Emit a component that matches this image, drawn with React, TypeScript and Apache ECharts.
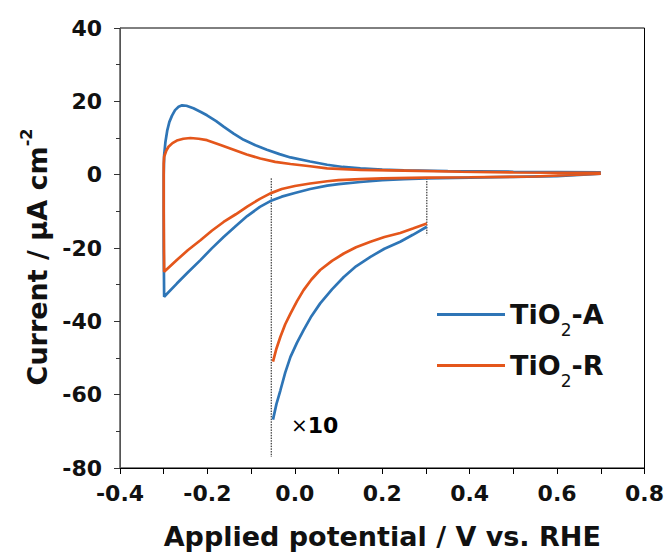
import React, { useEffect, useRef } from 'react';
import * as echarts from 'echarts';

// Axis ranges / ticks
const X_MIN = -0.4;
const X_MAX = 0.8;
const X_STEP = 0.2;
const Y_MIN = -80;
const Y_MAX = 40;
const Y_STEP = 20;

const SERIES_NAMES = ['TiO2-A', 'TiO2-R'];

// TiO2-A cyclic voltammogram: cathodic sweep 0.7 -> -0.3, then anodic sweep -0.3 -> 0.7
const CV_A: number[][] = [
  [0.7, 0.3], [0.6, -0.4], [0.5, -0.6], [0.4, -0.8], [0.3, -1.0], [0.25, -1.2], [0.2, -1.5],
  [0.15, -2.0], [0.1, -2.6], [0.074, -3.0], [0.035, -3.9], [0.0, -5.0], [-0.03, -6.0],
  [-0.056, -7.2], [-0.08, -8.8], [-0.109, -11.3], [-0.135, -14.0], [-0.163, -17],
  [-0.19, -20.1], [-0.216, -23.3], [-0.245, -26.7], [-0.27, -29.7], [-0.299, -33.3],
  [-0.300, -20], [-0.300, 0], [-0.299, 5.3], [-0.296, 9.0], [-0.292, 12.0], [-0.287, 14.4],
  [-0.281, 16.1], [-0.274, 17.6], [-0.266, 18.5], [-0.258, 18.9], [-0.248, 18.8],
  [-0.232, 18.1], [-0.215, 17.1], [-0.201, 16.2], [-0.18, 14.6], [-0.163, 13.1],
  [-0.14, 11.2], [-0.117, 9.5], [-0.09, 8.0], [-0.064, 6.8], [-0.035, 5.6], [-0.01, 4.7],
  [0.035, 3.6], [0.074, 2.7], [0.11, 2.1], [0.15, 1.7], [0.2, 1.4], [0.25, 1.2],
  [0.35, 1.0], [0.5, 0.8], [0.7, 0.6],
];

// TiO2-R cyclic voltammogram
const CV_R: number[][] = [
  [0.7, 0.3], [0.55, -0.5], [0.4, -0.7], [0.3, -0.8], [0.2, -1.0], [0.15, -1.2],
  [0.1, -1.5], [0.074, -1.8], [0.035, -2.4], [0.0, -3.1], [-0.03, -3.9], [-0.056, -5.1],
  [-0.08, -6.6], [-0.109, -8.7], [-0.135, -10.8], [-0.163, -12.9], [-0.19, -15.3],
  [-0.216, -17.9], [-0.245, -20.6], [-0.27, -23.3], [-0.299, -26.5],
  [-0.300, -10], [-0.300, 3], [-0.299, 4.9], [-0.294, 6.6], [-0.289, 7.6], [-0.28, 8.6],
  [-0.27, 9.3], [-0.255, 9.8], [-0.239, 10.0], [-0.22, 9.8], [-0.201, 9.4], [-0.17, 8.1],
  [-0.14, 6.8], [-0.11, 5.5], [-0.079, 4.4], [-0.045, 3.5], [-0.01, 2.9], [0.035, 2.3],
  [0.074, 1.7], [0.15, 1.3], [0.25, 1.1], [0.38, 0.8], [0.5, 0.6], [0.7, 0.5],
];

// Cathodic current between -0.05 and 0.30 V multiplied by 10
const X10_A: number[][] = [
  [-0.05, -66.8], [-0.042, -62.5], [-0.033, -58.8], [-0.022, -54.0], [-0.01, -49.7],
  [0.005, -45.8], [0.02, -42.4], [0.038, -38.6], [0.058, -35.1], [0.085, -31.3],
  [0.112, -27.9], [0.14, -25.0], [0.173, -22.4], [0.205, -20.2], [0.241, -18.3],
  [0.27, -16.4], [0.302, -14.2],
];
const X10_R: number[][] = [
  [-0.05, -51], [-0.042, -47.4], [-0.033, -44.2], [-0.022, -40.8], [-0.01, -37.9],
  [0.005, -34.5], [0.02, -31.5], [0.038, -28.6], [0.058, -26], [0.085, -23.5],
  [0.112, -21.5], [0.14, -19.8], [0.173, -18.3], [0.205, -17.0], [0.241, -15.9],
  [0.27, -14.7], [0.302, -13.3],
];

// Dotted guide lines marking the magnified window
const GUIDE_LEFT: number[][] = [[-0.054, -1], [-0.054, -77]];
const GUIDE_RIGHT: number[][] = [[0.302, -1], [0.302, -16.5]];

const BLUE = '#2e75b6';
const ORANGE = '#e4561b';
const FONT = 'DejaVu Sans';

export default function App() {
  const ref = useRef<HTMLDivElement>(null);

  useEffect(() => {
    if (!ref.current) return;
    const chart = echarts.init(ref.current, undefined, { renderer: 'svg' });

    const lineSeries = (name: string, data: number[][], color: string) => ({
      name,
      type: 'line',
      data,
      symbol: 'none',
      showSymbol: false,
      smooth: false,
      lineStyle: { color, width: 2.7 },
      itemStyle: { color },
      z: 3,
    });
    const guide = (name: string, data: number[][]) => ({
      name,
      type: 'line',
      data,
      symbol: 'none',
      showSymbol: false,
      lineStyle: { color: '#111', width: 1, type: [1.5, 1.2] },
      z: 2,
    });

    chart.setOption({
      animation: false,
      backgroundColor: '#fff',
      grid: {
        left: 120,
        right: 22,
        top: 28,
        bottom: 88,
        show: true,
        borderColor: '#000',
        borderWidth: 1,
        backgroundColor: 'transparent',
      },
      xAxis: {
        type: 'value',
        min: X_MIN,
        max: X_MAX,
        interval: X_STEP,
        name: 'Applied potential / V vs. RHE',
        nameLocation: 'middle',
        nameGap: 55,
        nameTextStyle: { fontFamily: FONT, fontWeight: 'bold', fontSize: 27, color: '#111' },
        axisLine: { show: true, onZero: false, lineStyle: { color: '#000', width: 1 } },
        axisTick: { show: true, inside: false, length: 6, lineStyle: { color: '#000' } },
        minorTick: { show: true, splitNumber: 2, length: 6, lineStyle: { color: '#000' } },
        splitLine: { show: false },
        axisLabel: {
          margin: 14,
          fontFamily: FONT,
          fontWeight: 'bold',
          fontSize: 22,
          color: '#111',
          formatter: (v: number) => v.toFixed(1),
        },
      },
      yAxis: {
        type: 'value',
        min: Y_MIN,
        max: Y_MAX,
        interval: Y_STEP,
        name: 'Current / μA cm{sup|-2}',
        nameLocation: 'middle',
        nameGap: 64,
        nameRotate: 90,
        nameTextStyle: {
          fontFamily: FONT,
          fontWeight: 'bold',
          fontSize: 27,
          color: '#111',
          padding: [0, 18, 0, 0],
          rich: {
            sup: { fontFamily: FONT, fontWeight: 'bold', fontSize: 16, color: '#111', padding: [0, 0, 22, 0] },
          },
        },
        axisLine: { show: true, onZero: false, lineStyle: { color: '#555', width: 1 } },
        axisTick: { show: true, inside: false, length: 6, lineStyle: { color: '#333' } },
        minorTick: { show: true, splitNumber: 2, length: 4, lineStyle: { color: '#333' } },
        splitLine: { show: false },
        axisLabel: {
          margin: 18,
          fontFamily: FONT,
          fontWeight: 'bold',
          fontSize: 22,
          color: '#111',
        },
      },
      legend: {
        data: SERIES_NAMES,
        orient: 'vertical',
        left: 432,
        top: 296,
        icon: 'rect',
        itemWidth: 68,
        itemHeight: 3,
        itemGap: 14,
        formatter: (n: string) => (n === 'TiO2-A' ? '{b|TiO}{s|2}{b|-A}' : '{b|TiO}{s|2}{b|-R}'),
        textStyle: {
          rich: {
            b: { fontFamily: FONT, fontWeight: 'bold', fontSize: 27, color: '#111' },
            s: { fontFamily: FONT, fontWeight: 'normal', fontSize: 17, color: '#111', padding: [30, 0, 0, 0] },
          },
        },
      },
      graphic: [
        {
          type: 'text',
          left: 291,
          top: 414,
          style: {
            text: '{x|×}{n|10}',
            rich: {
              x: { fontFamily: FONT, fontSize: 20, color: '#888' },
              n: { fontFamily: FONT, fontWeight: 'bold', fontSize: 22, color: '#111' },
            },
          },
        },
      ],
      series: [
        guide('guideL', GUIDE_LEFT),
        guide('guideR', GUIDE_RIGHT),
        lineSeries('TiO2-A', CV_A, BLUE),
        lineSeries('TiO2-A x10', X10_A, BLUE),
        lineSeries('TiO2-R', CV_R, ORANGE),
        lineSeries('TiO2-R x10', X10_R, ORANGE),
      ],
    });

    return () => chart.dispose();
  }, []);

  return (
    <div
      ref={ref}
      style={{ position: 'absolute', left: 0, top: 0, width: 667, height: 556, background: '#fff' }}
    />
  );
}
